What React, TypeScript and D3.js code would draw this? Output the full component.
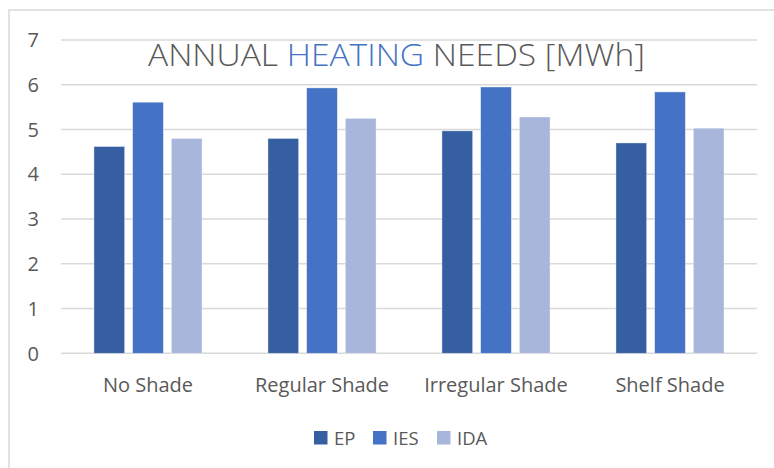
import React from "react";
import * as d3 from "d3";

const categories = ["No Shade", "Regular Shade", "Irregular Shade", "Shelf Shade"];
const seriesNames = ["EP", "IES", "IDA"];
const epValues = [4.62, 4.8, 4.97, 4.7];
const iesValues = [5.61, 5.93, 5.95, 5.84];
const idaValues = [4.8, 5.25, 5.28, 5.03];
const yTicks = [0, 1, 2, 3, 4, 5, 6, 7];
const colors = ["#365FA1", "#4472C4", "#A9B6DB"];

const W = 774;
const H = 468;
const FONT = "'Open Sans', 'Noto Sans', sans-serif";

export default function App() {
  const series = [epValues, iesValues, idaValues];
  const plot = { left: 61, right: 757, top: 40, bottom: 353.3 };
  const x = d3.scaleBand<string>().domain(categories).range([plot.left, plot.right]).paddingInner(0).paddingOuter(0);
  const y = d3.scaleLinear().domain([0, 7]).range([plot.bottom, plot.top]);
  const barW = 30.7;
  const barGap = 8;
  const groupW = barW * 3 + barGap * 2;

  return (
    <div style={{ position: "fixed", left: 0, top: 0, width: W, height: H, background: "#fff" }}>
      <svg width={W} height={H} style={{ display: "block" }}>
        <rect x={0} y={0} width={W} height={H} fill="#fff" />
        <line x1={9} x2={9} y1={9.5} y2={H} stroke="#d9d9d9" strokeWidth={1.5} />
        <line x1={8.5} x2={W} y1={10} y2={10} stroke="#d9d9d9" strokeWidth={1.5} />
        {yTicks.map((t) => (
          <g key={t}>
            <line x1={plot.left} x2={plot.right} y1={y(t)} y2={y(t)} stroke="#d9d9d9" strokeWidth={1.6} />
            <text x={39} y={y(t)} dy="0.36em" textAnchor="end" fill="#595959" fontFamily={FONT} fontSize={20}>
              {t}
            </text>
          </g>
        ))}
        {categories.map((c, ci) => {
          const gx = (x(c) as number) + x.bandwidth() / 2 - groupW / 2;
          return (
            <g key={c}>
              {series.map((s, si) => (
                <rect
                  key={si}
                  x={gx + si * (barW + barGap)}
                  y={y(s[ci])}
                  width={barW}
                  height={y(0) - y(s[ci])}
                  fill={colors[si]}
                  stroke="#ffffff"
                  strokeOpacity={0.5}
                  strokeWidth={0.75}
                />
              ))}
              <text
                x={(x(c) as number) + x.bandwidth() / 2}
                y={392}
                textAnchor="middle"
                fill="#595959"
                fontFamily={FONT}
                fontSize={20}
              >
                {c}
              </text>
            </g>
          );
        })}
        <text
          x={148}
          y={66}
          textLength={497}
          lengthAdjust="spacingAndGlyphs"
          fill="#595959"
          fontFamily={FONT}
          fontSize={31.5}
          fontWeight={300}
        >
          ANNUAL <tspan fill="#4472C4">HEATING</tspan> NEEDS [MWh]
        </text>
        {(() => {
          const starts = [314, 373, 437];
          return seriesNames.map((n, i) => (
            <g key={n}>
              <rect x={starts[i]} y={431} width={13.5} height={13.5} fill={colors[i]} />
              <text x={starts[i] + 20} y={444.5} fill="#595959" fontFamily={FONT} fontSize={18.5}>
                {n}
              </text>
            </g>
          ));
        })()}
      </svg>
    </div>
  );
}
